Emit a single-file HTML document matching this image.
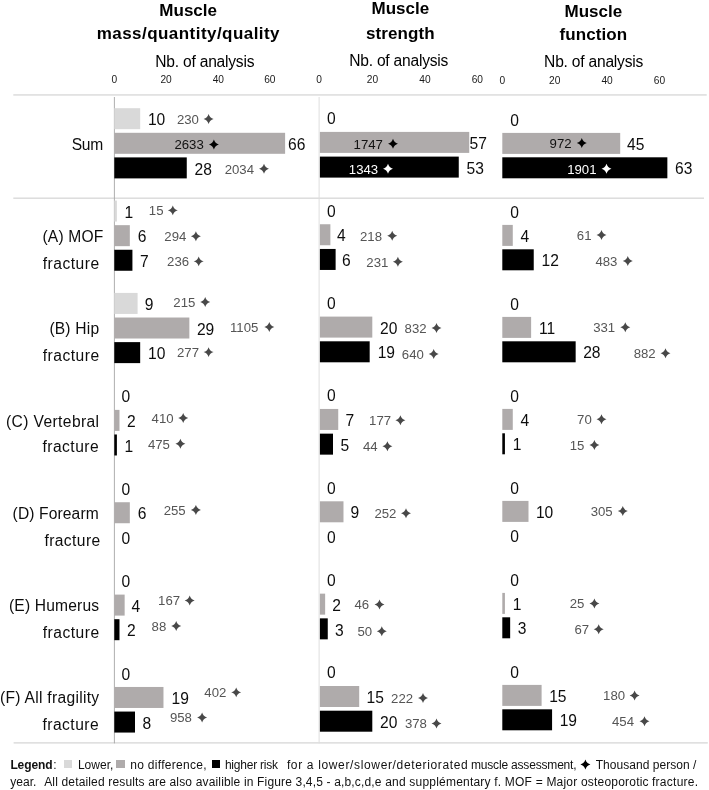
<!DOCTYPE html>
<html><head><meta charset="utf-8"><title>Figure</title>
<style>
html,body{margin:0;padding:0;background:#fff;}
body{width:709px;height:790px;position:relative;overflow:hidden;font-family:"Liberation Sans",sans-serif;color:#000;}
.a{position:absolute;white-space:nowrap;}
.b{position:absolute;}
.v{position:absolute;white-space:nowrap;font-size:15.6px;line-height:20px;height:20px;color:#0d0d0d;}
.p{position:absolute;white-space:nowrap;font-size:13.2px;line-height:16px;height:16px;color:#555;}
.p.k{color:#111;}
.p.w{color:#fff;}
.s{position:absolute;width:10.8px;height:10.8px;}
.t{position:absolute;white-space:nowrap;font-weight:bold;font-size:17px;line-height:20px;height:20px;text-align:center;width:220px;}
.t2{letter-spacing:0.45px;}
.n{position:absolute;white-space:nowrap;font-size:15.6px;line-height:20px;height:20px;text-align:center;width:160px;letter-spacing:-0.22px;}
.tk{position:absolute;white-space:nowrap;font-size:10.2px;line-height:12px;height:12px;width:30px;text-align:center;color:#1a1a1a;}
.r{position:absolute;white-space:nowrap;font-size:15.6px;line-height:20px;height:20px;color:#0d0d0d;}
.h{position:absolute;height:1px;background:#cfcfcf;}
.vl{position:absolute;width:1px;background:#cfcfcf;}
.lg{position:absolute;white-space:nowrap;font-size:12px;line-height:16px;height:16px;color:#111;}
.sq{position:absolute;width:8.5px;height:7.5px;}

</style></head><body><div id="w" style="position:absolute;left:0;top:0;width:709px;height:790px;will-change:transform">
<svg class="a" style="left:0;top:0" width="709" height="790" viewBox="0 0 709 790">
<defs><path id="st" d="M5 0.3 Q6.1 3.9 9.7 5 Q6.1 6.1 5 9.7 Q3.9 6.1 0.3 5 Q3.9 3.9 5 0.3 Z"/></defs>
<rect x="13.30" y="94.40" width="693.40" height="1.1" fill="#cfcfcf"/>
<rect x="13.30" y="197.60" width="690.70" height="1.1" fill="#cfcfcf"/>
<rect x="13.60" y="742.35" width="694.20" height="1.1" fill="#cfcfcf"/>
<rect x="113.9" y="97" width="0.9" height="646.4" fill="#a6a6a6"/>
<rect x="318.6" y="97" width="1" height="646.4" fill="#dedede"/>
<rect x="114.30" y="108.20" width="25.88" height="21.00" fill="#d9d9d9"/>
<use href="#st" fill="#484848" transform="translate(203.30 113.80) scale(1.060)"/>
<rect x="114.30" y="132.80" width="170.81" height="21.00" fill="#afabab"/>
<use href="#st" fill="#000" transform="translate(208.60 139.10) scale(1.060)"/>
<rect x="114.30" y="157.40" width="72.46" height="21.00" fill="#000000"/>
<use href="#st" fill="#484848" transform="translate(258.70 163.40) scale(1.060)"/>
<rect x="114.30" y="200.56" width="2.59" height="21.00" fill="#d9d9d9"/>
<use href="#st" fill="#484848" transform="translate(167.50 205.06) scale(1.060)"/>
<rect x="114.30" y="225.16" width="15.53" height="21.00" fill="#afabab"/>
<use href="#st" fill="#484848" transform="translate(190.60 230.96) scale(1.060)"/>
<rect x="114.30" y="249.76" width="18.12" height="21.00" fill="#000000"/>
<use href="#st" fill="#484848" transform="translate(193.40 256.06) scale(1.060)"/>
<rect x="114.30" y="292.92" width="23.29" height="21.00" fill="#d9d9d9"/>
<use href="#st" fill="#484848" transform="translate(199.90 296.72) scale(1.060)"/>
<rect x="114.30" y="317.52" width="75.05" height="21.00" fill="#afabab"/>
<use href="#st" fill="#484848" transform="translate(264.00 321.62) scale(1.060)"/>
<rect x="114.30" y="342.12" width="25.88" height="21.00" fill="#000000"/>
<use href="#st" fill="#484848" transform="translate(203.30 346.82) scale(1.060)"/>
<rect x="114.30" y="409.88" width="5.18" height="21.00" fill="#afabab"/>
<use href="#st" fill="#484848" transform="translate(177.90 412.68) scale(1.060)"/>
<rect x="114.30" y="434.48" width="2.59" height="21.00" fill="#000000"/>
<use href="#st" fill="#484848" transform="translate(175.10 438.38) scale(1.060)"/>
<rect x="114.30" y="502.24" width="15.53" height="21.00" fill="#afabab"/>
<use href="#st" fill="#484848" transform="translate(190.60 504.64) scale(1.060)"/>
<rect x="114.30" y="594.60" width="10.35" height="21.00" fill="#afabab"/>
<use href="#st" fill="#484848" transform="translate(184.40 595.10) scale(1.060)"/>
<rect x="114.30" y="619.20" width="5.18" height="21.00" fill="#000000"/>
<use href="#st" fill="#484848" transform="translate(170.90 620.70) scale(1.060)"/>
<rect x="114.30" y="686.96" width="49.17" height="21.00" fill="#afabab"/>
<use href="#st" fill="#484848" transform="translate(230.90 687.06) scale(1.060)"/>
<rect x="114.30" y="711.56" width="20.70" height="21.00" fill="#000000"/>
<use href="#st" fill="#484848" transform="translate(196.80 712.26) scale(1.060)"/>
<rect x="319.90" y="131.90" width="149.34" height="21.00" fill="#afabab"/>
<use href="#st" fill="#000" transform="translate(387.70 138.40) scale(1.060)"/>
<rect x="319.90" y="156.60" width="138.86" height="21.00" fill="#000000"/>
<use href="#st" fill="#fff" transform="translate(382.70 163.40) scale(1.060)"/>
<rect x="319.90" y="224.25" width="10.48" height="21.00" fill="#afabab"/>
<use href="#st" fill="#484848" transform="translate(386.90 230.45) scale(1.060)"/>
<rect x="319.90" y="248.95" width="15.72" height="21.00" fill="#000000"/>
<use href="#st" fill="#484848" transform="translate(392.60 256.45) scale(1.060)"/>
<rect x="319.90" y="316.60" width="52.40" height="21.00" fill="#afabab"/>
<use href="#st" fill="#484848" transform="translate(431.20 322.80) scale(1.060)"/>
<rect x="319.90" y="341.30" width="49.78" height="21.00" fill="#000000"/>
<use href="#st" fill="#484848" transform="translate(428.40 348.80) scale(1.060)"/>
<rect x="319.90" y="408.95" width="18.34" height="21.00" fill="#afabab"/>
<use href="#st" fill="#484848" transform="translate(395.10 414.85) scale(1.060)"/>
<rect x="319.90" y="433.65" width="13.10" height="21.00" fill="#000000"/>
<use href="#st" fill="#484848" transform="translate(382.10 440.85) scale(1.060)"/>
<rect x="319.90" y="501.30" width="23.58" height="21.00" fill="#afabab"/>
<use href="#st" fill="#484848" transform="translate(400.70 508.00) scale(1.060)"/>
<rect x="319.90" y="593.65" width="5.24" height="21.00" fill="#afabab"/>
<use href="#st" fill="#484848" transform="translate(374.20 599.25) scale(1.060)"/>
<rect x="319.90" y="618.35" width="7.86" height="21.00" fill="#000000"/>
<use href="#st" fill="#484848" transform="translate(376.50 625.95) scale(1.060)"/>
<rect x="319.90" y="686.00" width="39.30" height="21.00" fill="#afabab"/>
<use href="#st" fill="#484848" transform="translate(417.70 692.60) scale(1.060)"/>
<rect x="319.90" y="710.70" width="52.40" height="21.00" fill="#000000"/>
<use href="#st" fill="#484848" transform="translate(431.20 718.20) scale(1.060)"/>
<rect x="502.30" y="132.90" width="117.90" height="21.00" fill="#afabab"/>
<use href="#st" fill="#000" transform="translate(576.50 137.80) scale(1.060)"/>
<rect x="502.30" y="157.30" width="165.06" height="21.00" fill="#000000"/>
<use href="#st" fill="#fff" transform="translate(601.20 163.50) scale(1.060)"/>
<rect x="502.30" y="224.90" width="10.48" height="21.00" fill="#afabab"/>
<use href="#st" fill="#484848" transform="translate(596.20 229.60) scale(1.060)"/>
<rect x="502.30" y="249.30" width="31.44" height="21.00" fill="#000000"/>
<use href="#st" fill="#484848" transform="translate(622.50 255.70) scale(1.060)"/>
<rect x="502.30" y="316.90" width="28.82" height="21.00" fill="#afabab"/>
<use href="#st" fill="#484848" transform="translate(620.00 321.90) scale(1.060)"/>
<rect x="502.30" y="341.30" width="73.36" height="21.00" fill="#000000"/>
<use href="#st" fill="#484848" transform="translate(660.20 348.00) scale(1.060)"/>
<rect x="502.30" y="408.90" width="10.48" height="21.00" fill="#afabab"/>
<use href="#st" fill="#484848" transform="translate(596.20 413.90) scale(1.060)"/>
<rect x="502.30" y="433.30" width="2.62" height="21.00" fill="#000000"/>
<use href="#st" fill="#484848" transform="translate(589.10 439.70) scale(1.060)"/>
<rect x="502.30" y="500.90" width="26.20" height="21.00" fill="#afabab"/>
<use href="#st" fill="#484848" transform="translate(617.50 505.80) scale(1.060)"/>
<rect x="502.30" y="592.90" width="2.62" height="21.00" fill="#afabab"/>
<use href="#st" fill="#484848" transform="translate(589.10 598.10) scale(1.060)"/>
<rect x="502.30" y="617.30" width="7.86" height="21.00" fill="#000000"/>
<use href="#st" fill="#484848" transform="translate(593.40 624.00) scale(1.060)"/>
<rect x="502.30" y="684.90" width="39.30" height="21.00" fill="#afabab"/>
<use href="#st" fill="#484848" transform="translate(629.30 690.10) scale(1.060)"/>
<rect x="502.30" y="709.30" width="49.78" height="21.00" fill="#000000"/>
<use href="#st" fill="#484848" transform="translate(639.20 716.00) scale(1.060)"/>
<use href="#st" fill="#000" transform="translate(580.10 759.30) scale(1.060)"/>
</svg>
<div class="t" style="left:78.2px;top:1.0px">Muscle</div>
<div class="t" style="left:78.4px;top:24.0px;letter-spacing:0.45px">mass/quantity/quality</div>
<div class="n" style="left:124.8px;top:52.0px">Nb. of analysis</div>
<div class="t" style="left:290.3px;top:-1.0px">Muscle</div>
<div class="t" style="left:290.4px;top:24.0px;letter-spacing:0.10px">strength</div>
<div class="n" style="left:318.7px;top:51.0px">Nb. of analysis</div>
<div class="t" style="left:483.4px;top:2.0px">Muscle</div>
<div class="t" style="left:483.4px;top:25.0px;letter-spacing:0.10px">function</div>
<div class="n" style="left:513.6px;top:52.0px">Nb. of analysis</div>
<div class="tk" style="left:99.3px;top:74.0px">0</div>
<div class="tk" style="left:151.1px;top:74.0px">20</div>
<div class="tk" style="left:203.3px;top:74.0px">40</div>
<div class="tk" style="left:254.8px;top:74.0px">60</div>
<div class="tk" style="left:304.0px;top:74.0px">0</div>
<div class="tk" style="left:357.5px;top:74.0px">20</div>
<div class="tk" style="left:409.9px;top:74.0px">40</div>
<div class="tk" style="left:462.3px;top:74.0px">60</div>
<div class="tk" style="left:487.3px;top:75.0px">0</div>
<div class="tk" style="left:539.7px;top:75.0px">20</div>
<div class="tk" style="left:592.1px;top:75.0px">40</div>
<div class="tk" style="left:644.5px;top:75.0px">60</div>
<div class="r" style="left:71.8px;top:135px;letter-spacing:-0.34px">Sum</div>
<div class="r" style="left:42.5px;top:227px;letter-spacing:0.17px">(A) MOF</div>
<div class="r" style="left:42.8px;top:254px;letter-spacing:0.49px">fracture</div>
<div class="r" style="left:49.4px;top:319px;letter-spacing:0.19px">(B) Hip</div>
<div class="r" style="left:42.8px;top:346px;letter-spacing:0.49px">fracture</div>
<div class="r" style="left:5.9px;top:412px;letter-spacing:0.40px">(C) Vertebral</div>
<div class="r" style="left:42.5px;top:437px;letter-spacing:0.47px">fracture</div>
<div class="r" style="left:12.6px;top:504px;letter-spacing:0.12px">(D) Forearm</div>
<div class="r" style="left:44.4px;top:531px;letter-spacing:0.42px">fracture</div>
<div class="r" style="left:9.0px;top:596px;letter-spacing:0.17px">(E) Humerus</div>
<div class="r" style="left:42.8px;top:623px;letter-spacing:0.49px">fracture</div>
<div class="r" style="left:-0.1px;top:688px;letter-spacing:0.30px">(F) All fragility</div>
<div class="r" style="left:42.5px;top:715px;letter-spacing:0.47px">fracture</div>
<div class="v" style="left:147.9px;top:110.0px">10</div>
<div class="p" style="left:176.9px;top:112.0px">230</div>
<div class="v" style="left:288.1px;top:135.0px">66</div>
<div class="p k" style="left:174.4px;top:137.0px">2633</div>
<div class="v" style="left:194.6px;top:160.0px">28</div>
<div class="p" style="left:224.7px;top:162.0px">2034</div>
<div class="v" style="left:124.4px;top:203.0px">1</div>
<div class="p" style="left:148.8px;top:203.0px">15</div>
<div class="v" style="left:137.7px;top:227.0px">6</div>
<div class="p" style="left:164.3px;top:229.0px">294</div>
<div class="v" style="left:139.9px;top:252.0px">7</div>
<div class="p" style="left:167.1px;top:254.0px">236</div>
<div class="v" style="left:144.7px;top:295.0px">9</div>
<div class="p" style="left:173.3px;top:295.0px">215</div>
<div class="v" style="left:196.9px;top:320.0px">29</div>
<div class="p" style="left:230.0px;top:320.0px">1105</div>
<div class="v" style="left:148.1px;top:344.0px">10</div>
<div class="p" style="left:177.0px;top:345.0px">277</div>
<div class="v" style="left:121.6px;top:387.0px">0</div>
<div class="v" style="left:127.0px;top:412.0px">2</div>
<div class="p" style="left:151.6px;top:411.0px">410</div>
<div class="v" style="left:124.4px;top:437.0px">1</div>
<div class="p" style="left:147.9px;top:437.0px">475</div>
<div class="v" style="left:121.6px;top:480.0px">0</div>
<div class="v" style="left:137.7px;top:504.0px">6</div>
<div class="p" style="left:163.7px;top:503.0px">255</div>
<div class="v" style="left:121.6px;top:529.0px">0</div>
<div class="v" style="left:121.6px;top:572.0px">0</div>
<div class="v" style="left:131.5px;top:597.0px">4</div>
<div class="p" style="left:158.1px;top:593.0px">167</div>
<div class="v" style="left:127.0px;top:621.0px">2</div>
<div class="p" style="left:151.6px;top:619.0px">88</div>
<div class="v" style="left:121.6px;top:665.0px">0</div>
<div class="v" style="left:171.5px;top:689.0px">19</div>
<div class="p" style="left:204.3px;top:685.0px">402</div>
<div class="v" style="left:142.5px;top:714.0px">8</div>
<div class="p" style="left:169.9px;top:710.0px">958</div>
<div class="v" style="left:327.0px;top:109.0px">0</div>
<div class="v" style="left:469.6px;top:134.0px">57</div>
<div class="p k" style="left:353.6px;top:137.0px">1747</div>
<div class="v" style="left:466.6px;top:159.0px">53</div>
<div class="p w" style="left:348.8px;top:162.0px">1343</div>
<div class="v" style="left:327.0px;top:202.0px">0</div>
<div class="v" style="left:337.1px;top:226.0px">4</div>
<div class="p" style="left:360.0px;top:229.0px">218</div>
<div class="v" style="left:341.9px;top:251.0px">6</div>
<div class="p" style="left:366.3px;top:255.0px">231</div>
<div class="v" style="left:327.0px;top:294.0px">0</div>
<div class="v" style="left:380.0px;top:319.0px">20</div>
<div class="p" style="left:404.6px;top:321.0px">832</div>
<div class="v" style="left:377.7px;top:343.0px">19</div>
<div class="p" style="left:401.8px;top:347.0px">640</div>
<div class="v" style="left:327.0px;top:386.0px">0</div>
<div class="v" style="left:345.6px;top:411.0px">7</div>
<div class="p" style="left:369.1px;top:413.0px">177</div>
<div class="v" style="left:340.5px;top:436.0px">5</div>
<div class="p" style="left:362.9px;top:439.0px">44</div>
<div class="v" style="left:327.0px;top:479.0px">0</div>
<div class="v" style="left:350.4px;top:503.0px">9</div>
<div class="p" style="left:374.4px;top:506.0px">252</div>
<div class="v" style="left:327.0px;top:528.0px">0</div>
<div class="v" style="left:327.0px;top:571.0px">0</div>
<div class="v" style="left:332.3px;top:596.0px">2</div>
<div class="p" style="left:354.4px;top:597.0px">46</div>
<div class="v" style="left:334.9px;top:621.0px">3</div>
<div class="p" style="left:357.5px;top:624.0px">50</div>
<div class="v" style="left:327.0px;top:663.0px">0</div>
<div class="v" style="left:366.5px;top:688.0px">15</div>
<div class="p" style="left:391.1px;top:691.0px">222</div>
<div class="v" style="left:380.0px;top:713.0px">20</div>
<div class="p" style="left:404.9px;top:716.0px">378</div>
<div class="v" style="left:510.3px;top:111.0px">0</div>
<div class="v" style="left:627.1px;top:135.0px">45</div>
<div class="p k" style="left:549.6px;top:136.0px">972</div>
<div class="v" style="left:675.0px;top:159.0px">63</div>
<div class="p w" style="left:567.2px;top:162.0px">1901</div>
<div class="v" style="left:510.3px;top:203.0px">0</div>
<div class="v" style="left:520.5px;top:227.0px">4</div>
<div class="p" style="left:576.8px;top:228.0px">61</div>
<div class="v" style="left:541.5px;top:251.0px">12</div>
<div class="p" style="left:595.4px;top:254.0px">483</div>
<div class="v" style="left:510.3px;top:295.0px">0</div>
<div class="v" style="left:539.0px;top:319.0px">11</div>
<div class="p" style="left:593.2px;top:320.0px">331</div>
<div class="v" style="left:583.2px;top:343.0px">28</div>
<div class="p" style="left:633.7px;top:346.0px">882</div>
<div class="v" style="left:510.3px;top:387.0px">0</div>
<div class="v" style="left:520.5px;top:411.0px">4</div>
<div class="p" style="left:577.1px;top:412.0px">70</div>
<div class="v" style="left:512.8px;top:435.0px">1</div>
<div class="p" style="left:569.7px;top:438.0px">15</div>
<div class="v" style="left:510.3px;top:479.0px">0</div>
<div class="v" style="left:535.9px;top:503.0px">10</div>
<div class="p" style="left:590.7px;top:504.0px">305</div>
<div class="v" style="left:510.3px;top:527.0px">0</div>
<div class="v" style="left:510.3px;top:571.0px">0</div>
<div class="v" style="left:512.8px;top:595.0px">1</div>
<div class="p" style="left:569.7px;top:596.0px">25</div>
<div class="v" style="left:517.7px;top:619.0px">3</div>
<div class="p" style="left:574.4px;top:622.0px">67</div>
<div class="v" style="left:510.3px;top:663.0px">0</div>
<div class="v" style="left:549.2px;top:687.0px">15</div>
<div class="p" style="left:603.1px;top:688.0px">180</div>
<div class="v" style="left:559.7px;top:711.0px">19</div>
<div class="p" style="left:612.0px;top:714.0px">454</div>
<div class="lg" style="left:10.4px;top:756.8px;letter-spacing:-0.114px;font-weight:bold">Legend</div>
<div class="lg" style="left:53.2px;top:756.8px;letter-spacing:0.000px">:</div>
<div class="sq" style="left:63.5px;top:760.4px;background:#d9d9d9"></div>
<div class="lg" style="left:77.9px;top:756.8px;letter-spacing:0.029px">Lower,</div>
<div class="sq" style="left:116.3px;top:760.4px;background:#afabab"></div>
<div class="lg" style="left:130.3px;top:756.8px;letter-spacing:0.285px">no difference,</div>
<div class="sq" style="left:211.9px;top:760.4px;background:#000000"></div>
<div class="lg" style="left:224.9px;top:756.8px;letter-spacing:-0.215px">higher risk</div>
<div class="lg" style="left:286.9px;top:756.8px;letter-spacing:0.650px">for a lower/slower/deteriorated</div>
<div class="lg" style="left:471.0px;top:756.8px;letter-spacing:-0.183px">muscle assessment,</div>
<div class="lg" style="left:595.7px;top:756.8px;letter-spacing:0.036px">Thousand person</div>
<div class="lg" style="left:693.0px;top:756.8px;letter-spacing:0.000px">/</div>
<div class="lg" style="left:10.2px;top:773.8px;letter-spacing:0.046px">year.</div>
<div class="lg" style="left:44.2px;top:773.8px;letter-spacing:0.158px">All detailed results are also availible in Figure 3,4,5 - a,b,c,d,e</div>
<div class="lg" style="left:385.2px;top:773.8px;letter-spacing:0.203px">and supplémentary f. MOF = Major osteoporotic</div>
<div class="lg" style="left:652.0px;top:773.8px;letter-spacing:0.261px">fracture.</div>
</div></body></html>
